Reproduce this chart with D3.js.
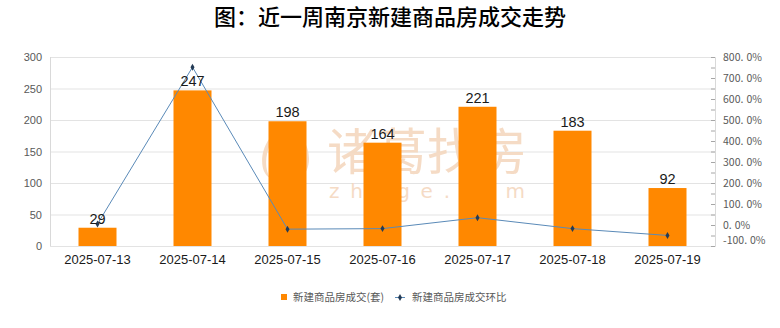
<!DOCTYPE html>
<html>
<head>
<meta charset="utf-8">
<script src="https://cdn.jsdelivr.net/npm/d3@7/dist/d3.min.js"></script>
<style>
  html, body { margin: 0; padding: 0; background: #ffffff; }
  svg { display: block; }
</style>
</head>
<body>
<svg id="chart" width="780" height="328"></svg>
<script>
// Weekly new-home transactions in Nanjing
const titleText = "图：近一周南京新建商品房成交走势";
const dates = ["2025-07-13", "2025-07-14", "2025-07-15", "2025-07-16", "2025-07-17", "2025-07-18", "2025-07-19"];
const deals = [29, 247, 198, 164, 221, 183, 92];
// day-over-day change, as a fraction
const changeRates = [0.05, 7.517, -0.198, -0.172, 0.348, -0.172, -0.497];
const leftTicks = [0, 50, 100, 150, 200, 250, 300];
const rightTicks = [-1, 0, 1, 2, 3, 4, 5, 6, 7, 8];
const rightMinorTicks = [-0.5, 0.5, 1.5, 2.5, 3.5, 4.5, 5.5, 6.5, 7.5];
const legendNames = ["新建商品房成交(套)", "新建商品房成交环比"];

const svg = d3.select("#chart");
const plot = { left: 50, right: 715, top: 57, bottom: 246 };

const x = d3.scaleBand().domain(dates).range([plot.left, plot.right])
  .paddingInner(0.6).paddingOuter(0.3);
const yL = d3.scaleLinear().domain([0, 300]).range([plot.bottom, plot.top]);
const yR = d3.scaleLinear().domain([-1, 8]).range([plot.bottom, plot.top]);

const barColor = "#ff8800";
const lineColor = "#5a8ab8";
const markerColor = "#243b55";
const axisText = "#595959";

// title
svg.append("text")
  .attr("x", 390).attr("y", 25)
  .attr("text-anchor", "middle")
  .attr("font-family", "'Noto Sans CJK SC', sans-serif")
  .attr("font-size", 22)
  .attr("font-weight", 500)
  .attr("fill", "#000")
  .text(titleText);

// horizontal gridlines
svg.append("g").selectAll("line").data(leftTicks).join("line")
  .attr("x1", plot.left).attr("x2", plot.right)
  .attr("y1", d => yL(d) + 0.5).attr("y2", d => yL(d) + 0.5)
  .attr("stroke", "#e3e3e3").attr("stroke-width", 1);

// watermark
const wm = svg.append("g").attr("opacity", 0.9);
wm.append("path")
  .attr("d", "M286,128 C262,132 255,170 270,178 C262,165 266,138 286,128 Z M288,128 C310,134 316,168 300,178 C310,162 304,138 288,128 Z")
  .attr("fill", "#f5d8bf");
wm.append("ellipse")
  .attr("cx", 286).attr("cy", 153).attr("rx", 9).attr("ry", 22)
  .attr("fill", "#f8e4d3");
wm.append("text")
  .attr("x", 327).attr("y", 170)
  .attr("font-family", "'Noto Sans CJK SC', sans-serif")
  .attr("font-size", 50)
  .attr("fill", "#f5d8bf")
  .text("诸葛找房");
wm.append("text")
  .attr("x", 329).attr("y", 198)
  .attr("font-family", "'DejaVu Sans', sans-serif")
  .attr("font-size", 20)
  .attr("textLength", 196)
  .attr("lengthAdjust", "spacing")
  .attr("fill", "#f5d8bf")
  .text("zhuge.com");

// left axis line
svg.append("line")
  .attr("x1", plot.left + 0.5).attr("x2", plot.left + 0.5)
  .attr("y1", plot.top).attr("y2", plot.bottom)
  .attr("stroke", "#d9d9d9");

// left axis labels
const leftAxis = d3.axisLeft(yL).tickValues(leftTicks).tickSize(0).tickPadding(8);
const gL = svg.append("g").attr("transform", `translate(${plot.left},0)`).call(leftAxis);
gL.select(".domain").remove();
gL.selectAll("text")
  .attr("font-family", "'Liberation Sans', Arial, sans-serif")
  .attr("font-size", 11).attr("fill", axisText);

// right axis
const rightAxis = d3.axisRight(yR).tickValues(rightTicks).tickSize(-4).tickPadding(8)
  .tickFormat(d => (d * 100).toFixed(1) + "%");
const gR = svg.append("g").attr("transform", `translate(${plot.right},0)`).call(rightAxis);
gR.select(".domain").attr("stroke", "#d9d9d9");
gR.selectAll(".tick line").attr("stroke", "#a6a6a6");
gR.selectAll("text")
  .attr("font-family", "'Noto Sans CJK JP', sans-serif")
  .attr("font-size", 10.5).attr("fill", axisText)
  .each(function (d) {
    // split "800.0%" so the decimal point gets a little room after it
    const s = (d * 100).toFixed(1) + "%";
    const i = s.indexOf(".") + 1;
    const t = d3.select(this).text(null);
    t.append("tspan").text(s.slice(0, i));
    t.append("tspan").attr("dx", 3).text(s.slice(i));
  });
gR.selectAll(".tick").filter(d => d === -1).select("text").attr("dy", "-0.2em");
gR.append("g").selectAll("line").data(rightMinorTicks).join("line")
  .attr("x1", -4).attr("x2", 0)
  .attr("y1", d => yR(d) + 0.5).attr("y2", d => yR(d) + 0.5)
  .attr("stroke", "#a6a6a6");

// x axis labels
const xAxis = d3.axisBottom(x).tickSize(0).tickPadding(9);
const gX = svg.append("g").attr("transform", `translate(0,${plot.bottom})`).call(xAxis);
gX.select(".domain").remove();
gX.selectAll("text")
  .attr("font-family", "'Liberation Sans', Arial, sans-serif")
  .attr("font-size", 13).attr("fill", "#1a1a1a");

// bars
svg.append("g").selectAll("rect").data(dates).join("rect")
  .attr("x", d => x(d))
  .attr("width", x.bandwidth())
  .attr("y", (d, i) => yL(deals[i]))
  .attr("height", (d, i) => yL(0) - yL(deals[i]))
  .attr("fill", barColor);

// change-rate line
const cx = d => x(d) + x.bandwidth() / 2;
const line = d3.line().x((d, i) => cx(dates[i])).y(d => yR(d));
svg.append("path")
  .datum(changeRates)
  .attr("d", line)
  .attr("fill", "none")
  .attr("stroke", lineColor)
  .attr("stroke-width", 1);
svg.append("g").selectAll("path").data(changeRates).join("path")
  .attr("d", d3.symbol(d3.symbolDiamond, 14))
  .attr("transform", (d, i) => `translate(${cx(dates[i])},${yR(d)})`)
  .attr("fill", markerColor);

// value labels
svg.append("g").selectAll("text").data(deals).join("text")
  .attr("x", (d, i) => cx(dates[i]))
  .attr("y", d => yL(d) - 4)
  .attr("text-anchor", "middle")
  .attr("font-family", "'Liberation Sans', Arial, sans-serif")
  .attr("font-size", 14.5)
  .attr("fill", "#1a1a1a")
  .text(d => d);

// legend
const lg = svg.append("g").attr("font-family", "'Noto Sans CJK SC', sans-serif")
  .attr("font-size", 10.5).attr("fill", axisText);
lg.append("rect").attr("x", 281).attr("y", 294).attr("width", 6).attr("height", 6).attr("fill", barColor);
lg.append("text").attr("x", 293).attr("y", 301).text(legendNames[0]);
lg.append("line").attr("x1", 395).attr("x2", 405).attr("y1", 297.5).attr("y2", 297.5)
  .attr("stroke", lineColor);
lg.append("path").attr("d", d3.symbol(d3.symbolDiamond, 14))
  .attr("transform", "translate(400,297.5)").attr("fill", markerColor);
lg.append("text").attr("x", 412).attr("y", 301).text(legendNames[1]);
</script>
</body>
</html>
